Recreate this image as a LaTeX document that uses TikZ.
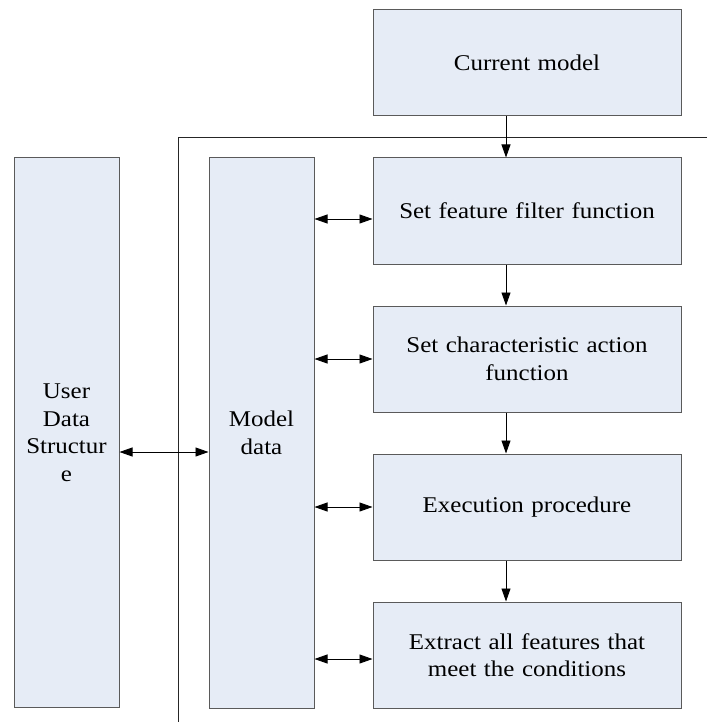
\documentclass[tikz,border=0pt]{standalone}
\usepackage{fontspec}
\setmainfont{Liberation Serif}[FakeStretch=1.11]
\usetikzlibrary{arrows.meta}
\definecolor{boxfill}{RGB}{230,236,246}
\definecolor{boxline}{RGB}{90,90,90}
\tikzset{
  blk/.style={draw=boxline, line width=1pt, fill=boxfill, inner sep=0pt, align=center,
    font=\fontsize{22.5}{27.5}\selectfont},
  wide/.style={blk, minimum width=308pt, minimum height=106pt, text width=290pt},
  tall/.style={blk, minimum width=105pt, minimum height=550pt, text width=100pt},
  arr/.style={line width=0.9pt, -{Triangle[length=13pt,width=9pt]}},
  dbl/.style={line width=0.9pt, {Triangle[length=13pt,width=9pt]}-{Triangle[length=13pt,width=9pt]}},
  frame/.style={line width=0.9pt, draw=black!85}
}
\begin{document}
\begin{tikzpicture}[x=1pt,y=-1pt]
\useasboundingbox (0,0) rectangle (707,722);
\node[wide] (cm) at (527,63) {Current model};
\node[wide] (b1) at (527,211) {Set feature filter function};
\node[wide] (b2) at (527,359) {Set characteristic action\\function};
\node[wide] (b3) at (527,507) {Execution procedure};
\node[wide] (b4) at (527,655) {Extract all features that\\meet the conditions};
\node[tall] (md) at (261.5,433) {Model\\data};
\node[tall, minimum height=549pt] (ud) at (66.5,432.5) {User\\Data\\Structur\\e};
\coordinate (fr1) at (707,137);
\coordinate (fr2) at (178.5,137);
\coordinate (fr3) at (178.5,722);
\draw[frame] (fr1) -- (fr2) -- (fr3);
\draw[arr] ([xshift=-21pt]cm.south) -- ([xshift=-21pt]b1.north);
\draw[arr] ([xshift=-21pt]b1.south) -- ([xshift=-21pt]b2.north);
\draw[arr] ([xshift=-21pt]b2.south) -- ([xshift=-21pt]b3.north);
\draw[arr] ([xshift=-21pt]b3.south) -- ([xshift=-21pt]b4.north);
\draw[dbl] ([yshift=-8pt]b1.west -| md.east) -- ([yshift=-8pt]b1.west);
\draw[dbl] (b2.west -| md.east) -- (b2.west);
\draw[dbl] (b3.west -| md.east) -- (b3.west);
\draw[dbl] ([yshift=-4pt]b4.west -| md.east) -- ([yshift=-4pt]b4.west);
\draw[dbl] ([yshift=-19.5pt]ud.east) -- ([yshift=-19.5pt]ud.east -| md.west);
\end{tikzpicture}
\end{document}
